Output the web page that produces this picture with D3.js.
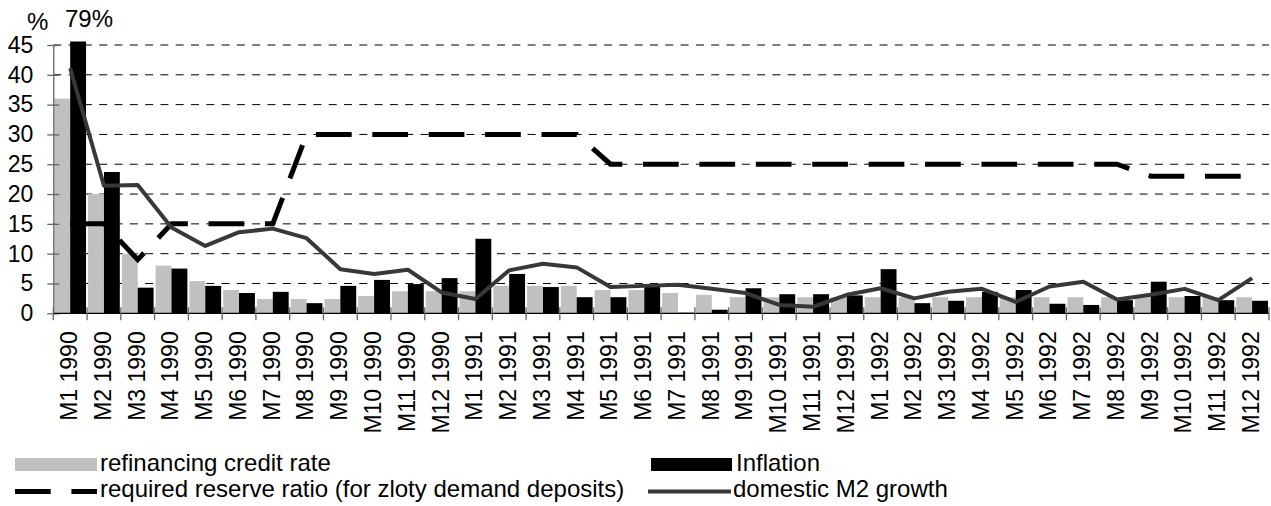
<!DOCTYPE html>
<html><head><meta charset="utf-8">
<script src="https://cdn.jsdelivr.net/npm/d3@7"></script>
<style>body{margin:0;background:#fff} text{font-family:"Liberation Sans",Arial,sans-serif;}</style>
</head><body><svg id="c" width="1271" height="506"></svg>
<script>
const categories = ["M1 1990","M2 1990","M3 1990","M4 1990","M5 1990","M6 1990","M7 1990","M8 1990","M9 1990","M10 1990","M11 1990","M12 1990",
"M1 1991","M2 1991","M3 1991","M4 1991","M5 1991","M6 1991","M7 1991","M8 1991","M9 1991","M10 1991","M11 1991","M12 1991",
"M1 1992","M2 1992","M3 1992","M4 1992","M5 1992","M6 1992","M7 1992","M8 1992","M9 1992","M10 1992","M11 1992","M12 1992"];
const refinancingRate = [36,20,10,8,5.4,3.9,2.4,2.4,2.4,2.9,3.7,3.7, 3.7,4.6,4.6,4.6,3.9,3.9,3.4,3.1,2.7,2.7,2.7,2.7, 2.7,2.7,2.7,2.7,2.7,2.7,2.7,2.7,2.7,2.7,2.7,2.7];
const inflation = [79,23.7,4.3,7.5,4.6,3.4,3.6,1.7,4.6,5.6,4.9,5.9, 12.5,6.6,4.4,2.7,2.7,4.5,0.1,0.6,4.2,3.2,3.2,3.0, 7.4,1.7,2.1,3.6,3.9,1.6,1.4,2.2,5.3,2.9,2.2,2.1];
const reserveRatio = [15,15,9,15,15,15,15,30,30,30,30,30, 30,30,30,30,25,25,25,25,25,25,25,25, 25,25,25,25,25,25,25,25,23,23,23,23];
const m2Growth = [41.1,21.4,21.5,14.4,11.3,13.6,14.2,12.6,7.4,6.6,7.3,3.5, 2.4,7.2,8.3,7.7,4.4,4.6,4.8,4.1,3.4,1.4,1.1,3.1, 4.2,2.5,3.6,4.1,1.9,4.5,5.3,2.3,3.1,4.1,2.2,5.9];
const yTicks = [0,5,10,15,20,25,30,35,40,45];
const seriesNames = ["refinancing credit rate","Inflation","required reserve ratio (for zloty demand deposits)","domestic M2 growth"];
const unitLabel = "%";
const peakLabel = "79%";

const svg = d3.select("#c");
svg.append("rect").attr("width",1271).attr("height",506).attr("fill","#fff");
const x = d3.scaleBand().domain(categories).range([53.3,1269]).paddingInner(0).paddingOuter(0);
const y = d3.scaleLinear().domain([0,45]).range([313.3,45]);
const bw = x.bandwidth();
const cx = c => x(c) + bw/2;
const topY = 41.5;

// gridlines
svg.append("g").selectAll("line").data(yTicks.filter(v=>v>0)).join("line")
  .attr("x1",53.3).attr("x2",1269).attr("y1",d=>y(d)).attr("y2",d=>y(d))
  .attr("stroke","#000").attr("stroke-width",1).attr("stroke-dasharray","8,7.3");

// refinancing bars
svg.append("g").selectAll("rect").data(categories).join("rect")
  .attr("x",c=>x(c)+bw*0.03).attr("width",bw*0.47)
  .attr("y",(c,i)=>y(refinancingRate[i])).attr("height",(c,i)=>y(0)-y(refinancingRate[i]))
  .attr("fill","#c0c0c0");

const mkLine = arr => d3.line().x(c=>cx(c)).y((c,i)=>y(arr[i]));

// reserve ratio line
svg.append("path").attr("d", mkLine(reserveRatio)(categories))
  .attr("fill","none").attr("stroke","#000").attr("stroke-width",5)
  .attr("stroke-dasharray","35.7,20.7");

// inflation bars
svg.append("g").selectAll("rect").data(categories).join("rect")
  .attr("x",c=>x(c)+bw*0.5).attr("width",bw*0.47)
  .attr("y",(c,i)=>Math.max(y(inflation[i]),topY)).attr("height",(c,i)=>y(0)-Math.max(y(inflation[i]),topY))
  .attr("fill","#000");

// M2 line
svg.append("path").attr("d", mkLine(m2Growth)(categories))
  .attr("fill","none").attr("stroke","#383838").attr("stroke-width",4).attr("stroke-linejoin","round");

// y axis
const ya = svg.append("g").attr("transform","translate(53.3,0)")
  .call(d3.axisLeft(y).tickValues(yTicks).tickSize(6).tickSizeOuter(0).tickPadding(14));
ya.select(".domain").attr("stroke","#666").attr("stroke-width",1.3);
ya.selectAll(".tick line").attr("x1",6).attr("stroke","#666").attr("stroke-width",1.3);
ya.selectAll(".tick text").attr("font-size",23).attr("fill","#000").attr("font-family","Liberation Sans, Arial, sans-serif");

// x axis
svg.append("line").attr("x1",53.3).attr("x2",1269).attr("y1",y(0)).attr("y2",y(0)).attr("stroke","#000").attr("stroke-width",1.3);
const bounds = categories.map(c=>x(c)).concat([x(categories[categories.length-1])+bw]);
svg.append("g").selectAll("line").data(bounds).join("line")
  .attr("x1",d=>d).attr("x2",d=>d).attr("y1",y(0)-6).attr("y2",y(0)+7)
  .attr("stroke","#666").attr("stroke-width",1.3);
const xa = svg.append("g").attr("transform",`translate(0,${y(0)})`)
  .call(d3.axisBottom(x).tickSize(0).tickSizeOuter(0));
xa.select(".domain").remove();
xa.selectAll(".tick text").attr("font-size",23).attr("fill","#000").attr("font-family","Liberation Sans, Arial, sans-serif")
  .attr("x",-18).attr("y",0).attr("dy","0.3em").attr("transform","rotate(-90)").attr("text-anchor","end");

// top labels
svg.append("text").attr("x",27).attr("y",30).attr("font-size",24).text(unitLabel);
svg.append("text").attr("x",65).attr("y",27).attr("font-size",24).text(peakLabel);

// legend
const lg = svg.append("g");
lg.append("rect").attr("x",15).attr("y",458).attr("width",82).attr("height",13).attr("fill","#c0c0c0");
lg.append("text").attr("x",100).attr("y",471).attr("font-size",24).text(seriesNames[0]);
lg.append("rect").attr("x",651).attr("y",458).attr("width",81).attr("height",13).attr("fill","#000");
lg.append("text").attr("x",736).attr("y",471).attr("font-size",24).text(seriesNames[1]);
lg.append("line").attr("x1",15).attr("x2",97).attr("y1",491.5).attr("y2",491.5).attr("stroke","#000").attr("stroke-width",5).attr("stroke-dasharray","35.7,20.7");
lg.append("text").attr("x",100).attr("y",497).attr("font-size",24).text(seriesNames[2]);
lg.append("line").attr("x1",648).attr("x2",731).attr("y1",491.5).attr("y2",491.5).attr("stroke","#383838").attr("stroke-width",4);
lg.append("text").attr("x",733).attr("y",497).attr("font-size",24).text(seriesNames[3]);
</script></body></html>
